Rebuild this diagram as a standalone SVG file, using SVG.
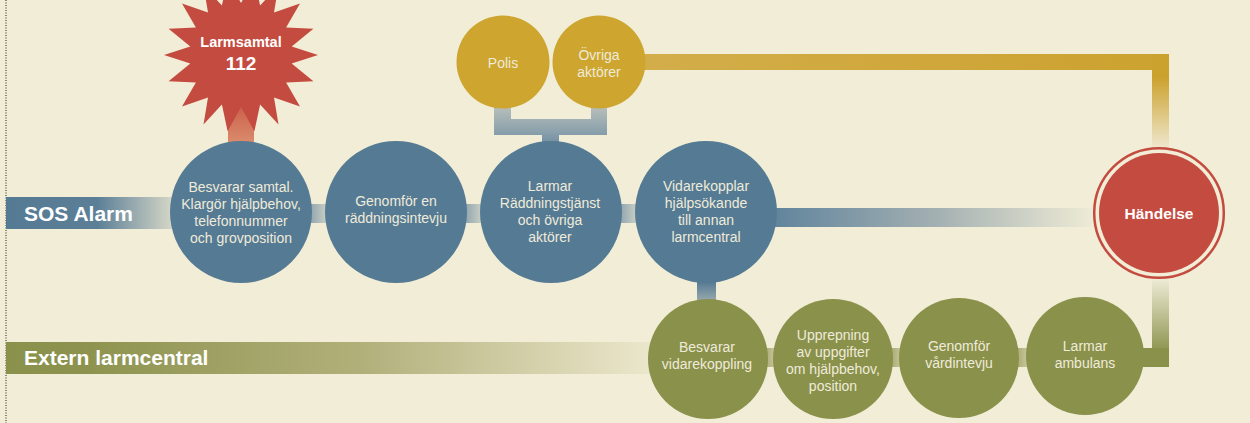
<svg xmlns="http://www.w3.org/2000/svg" width="1250" height="423" viewBox="0 0 1250 423">
  <defs>
    <style>
      .bg { fill: #f1edd6; }
      .blue { fill: #557a93; }
      .gold { fill: #cda52f; }
      .olive { fill: #8a914b; }
      .red { fill: #c44b3f; }
      .t { font-family: "Liberation Sans", Arial, sans-serif; font-size: 14px; fill: #efebda; text-anchor: middle; }
      .tb { font-family: "Liberation Sans", Arial, sans-serif; font-weight: bold; fill: #ffffff; text-anchor: middle; }
      .lane { font-family: "Liberation Sans", Arial, sans-serif; font-weight: bold; font-size: 21px; fill: #ffffff; }
    </style>
    <linearGradient id="gSos" x1="6" y1="0" x2="172" y2="0" gradientUnits="userSpaceOnUse">
      <stop offset="0" stop-color="#557a93"/>
      <stop offset="0.55" stop-color="#5c7f97"/>
      <stop offset="1" stop-color="#d4d6c7"/>
    </linearGradient>
    <linearGradient id="gExt" x1="6" y1="0" x2="652" y2="0" gradientUnits="userSpaceOnUse">
      <stop offset="0" stop-color="#8a914b"/>
      <stop offset="0.12" stop-color="#8d934e"/>
      <stop offset="0.55" stop-color="#b1b07a"/>
      <stop offset="1" stop-color="#ebe7cc"/>
    </linearGradient>
    <linearGradient id="gLong" x1="777" y1="0" x2="1095" y2="0" gradientUnits="userSpaceOnUse">
      <stop offset="0" stop-color="#62859c"/>
      <stop offset="0.5" stop-color="#a3b0b2"/>
      <stop offset="1" stop-color="#efecd6"/>
    </linearGradient>
    <linearGradient id="gShortBlue" x1="0" y1="0" x2="1" y2="0">
      <stop offset="0" stop-color="#7f98a8"/>
      <stop offset="1" stop-color="#dcdccc"/>
    </linearGradient>
    <linearGradient id="gShortOlive" x1="0" y1="0" x2="1" y2="0">
      <stop offset="0" stop-color="#9a9d5f"/>
      <stop offset="1" stop-color="#d6d3ae"/>
    </linearGradient>
    <linearGradient id="gGoldDown" x1="0" y1="54" x2="0" y2="150" gradientUnits="userSpaceOnUse">
      <stop offset="0" stop-color="#cca22f"/>
      <stop offset="0.25" stop-color="#cca22f"/>
      <stop offset="1" stop-color="#f0ead3"/>
    </linearGradient>
    <linearGradient id="gGoldH" x1="615" y1="0" x2="1169" y2="0" gradientUnits="userSpaceOnUse">
      <stop offset="0" stop-color="#d3ae4b"/>
      <stop offset="1" stop-color="#cca22f"/>
    </linearGradient>
    <linearGradient id="gOliveUp" x1="0" y1="279" x2="0" y2="367" gradientUnits="userSpaceOnUse">
      <stop offset="0" stop-color="#eeebd5"/>
      <stop offset="0.85" stop-color="#8a914b"/>
      <stop offset="1" stop-color="#8a914b"/>
    </linearGradient>
    <linearGradient id="gBracket" x1="0" y1="100" x2="0" y2="146" gradientUnits="userSpaceOnUse">
      <stop offset="0" stop-color="#c4c7bd"/>
      <stop offset="0.7" stop-color="#8aa0ac"/>
      <stop offset="1" stop-color="#6c8ca1"/>
    </linearGradient>
    <linearGradient id="gDrop" x1="0" y1="280" x2="0" y2="306" gradientUnits="userSpaceOnUse">
      <stop offset="0" stop-color="#4f7590"/>
      <stop offset="1" stop-color="#a9b6b5"/>
    </linearGradient>
    <linearGradient id="gRedBar" x1="0" y1="95" x2="0" y2="150" gradientUnits="userSpaceOnUse">
      <stop offset="0" stop-color="#c44b3f"/>
      <stop offset="0.35" stop-color="#cf6a52"/>
      <stop offset="1" stop-color="#dd9472"/>
    </linearGradient>
  </defs>

  <rect class="bg" x="0" y="0" width="1250" height="423"/>
  <line x1="6" y1="0" x2="6" y2="423" stroke="#222" stroke-width="1" stroke-dasharray="1,1.5"/>

  <!-- lanes -->
  <g id="lane-sos">
    <rect x="6" y="197" width="168" height="32" fill="url(#gSos)"/>
    <text class="lane" x="24" y="221">SOS Alarm</text>
  </g>
  <g id="lane-extern">
    <rect x="6" y="342" width="648" height="32" fill="url(#gExt)"/>
    <text class="lane" x="24" y="365">Extern larmcentral</text>
  </g>

  <!-- connectors -->
  <g id="connectors">
    <rect x="228" y="95" width="26" height="55" fill="url(#gRedBar)"/>
    <path d="M494,95 H511 V119 H591 V95 H607 V135 H559 V146 H542 V135 H494 Z" fill="url(#gBracket)"/>
    <rect x="615" y="54" width="554" height="16" fill="url(#gGoldH)"/>
    <rect x="1152" y="54" width="17" height="96" fill="url(#gGoldDown)"/>
    <rect x="305" y="204" width="27" height="19" fill="url(#gShortBlue)"/>
    <rect x="460" y="204" width="27" height="19" fill="url(#gShortBlue)"/>
    <rect x="615" y="204" width="27" height="19" fill="url(#gShortBlue)"/>
    <rect x="770" y="208" width="326" height="19" fill="url(#gLong)"/>
    <rect x="697" y="278" width="19" height="28" fill="url(#gDrop)"/>
    <rect x="760" y="348" width="20" height="19" fill="url(#gShortOlive)"/>
    <rect x="886" y="348" width="20" height="19" fill="url(#gShortOlive)"/>
    <rect x="1012" y="348" width="20" height="19" fill="url(#gShortOlive)"/>
    <rect x="1152" y="276" width="17" height="91" fill="url(#gOliveUp)"/>
    <rect x="1130" y="348" width="39" height="19" class="olive"/>
  </g>

  <!-- start -->
  <g id="n-larmsamtal">
    <polygon class="red" points="318.0,55.0 291.7,63.5 313.4,81.3 286.1,82.4 300.0,106.4 274.0,97.5 278.5,124.5 260.1,104.4 254.4,131.2 241.0,107.0 227.6,131.2 221.9,104.4 203.5,124.5 208.0,97.5 182.0,106.4 195.9,82.4 168.6,81.3 190.3,63.5 164.0,55.0 190.3,46.5 168.6,28.7 195.9,27.6 182.0,3.6 208.0,12.5 203.5,-14.5 221.9,5.6 227.6,-21.2 241.0,3.0 254.4,-21.2 260.1,5.6 278.5,-14.5 274.0,12.5 300.0,3.6 286.1,27.6 313.4,28.7 291.7,46.5"/>
    <text class="tb" x="241" y="47" font-size="14.5">Larmsamtal</text>
    <text class="tb" x="241" y="70" font-size="19">112</text>
  </g>

  <!-- SOS Alarm nodes -->
  <g id="n-besvarar-samtal">
    <circle class="blue" cx="241" cy="212" r="71"/>
    <text class="t" x="241" y="192">Besvarar samtal.</text>
    <text class="t" x="241" y="209">Klargör hjälpbehov,</text>
    <text class="t" x="241" y="226">telefonnummer</text>
    <text class="t" x="241" y="243">och grovposition</text>
  </g>
  <g id="n-raddningsintervju">
    <circle class="blue" cx="396" cy="212" r="71"/>
    <text class="t" x="396" y="206">Genomför en</text>
    <text class="t" x="396" y="223">räddningsintevju</text>
  </g>
  <g id="n-larmar-rtj">
    <circle class="blue" cx="551" cy="212" r="71"/>
    <text class="t" x="550" y="191">Larmar</text>
    <text class="t" x="550" y="208">Räddningstjänst</text>
    <text class="t" x="550" y="225">och övriga</text>
    <text class="t" x="550" y="242">aktörer</text>
  </g>
  <g id="n-vidarekopplar">
    <circle class="blue" cx="706" cy="212" r="71"/>
    <text class="t" x="706" y="191">Vidarekopplar</text>
    <text class="t" x="706" y="208">hjälpsökande</text>
    <text class="t" x="706" y="225">till annan</text>
    <text class="t" x="706" y="242">larmcentral</text>
  </g>

  <!-- actors -->
  <g id="n-polis">
    <circle class="gold" cx="503" cy="62" r="46.5"/>
    <text class="t" x="503" y="68" font-size="14.5">Polis</text>
  </g>
  <g id="n-ovriga">
    <circle class="gold" cx="599" cy="62" r="46.5"/>
    <text class="t" x="599" y="60" font-size="14.5">Övriga</text>
    <text class="t" x="599" y="77" font-size="14.5">aktörer</text>
  </g>

  <!-- event -->
  <g id="n-handelse">
    <circle cx="1159" cy="213" r="64.8" fill="#f1edd6" stroke="#c44b3f" stroke-width="2.5"/>
    <circle class="red" cx="1159" cy="213" r="60"/>
    <text class="tb" x="1159" y="219" font-size="15.5">Händelse</text>
  </g>

  <!-- Extern larmcentral nodes -->
  <g id="n-besvarar-vidarekoppling">
    <circle class="olive" cx="708" cy="359" r="60"/>
    <text class="t" x="707" y="352">Besvarar</text>
    <text class="t" x="707" y="369">vidarekoppling</text>
  </g>
  <g id="n-upprepning">
    <circle class="olive" cx="833" cy="359" r="60"/>
    <text class="t" x="833" y="340">Upprepning</text>
    <text class="t" x="833" y="357">av uppgifter</text>
    <text class="t" x="833" y="374">om hjälpbehov,</text>
    <text class="t" x="833" y="391">position</text>
  </g>
  <g id="n-vardintervju">
    <circle class="olive" cx="959" cy="358" r="60"/>
    <text class="t" x="959" y="351">Genomför</text>
    <text class="t" x="959" y="368">vårdintevju</text>
  </g>
  <g id="n-larmar-ambulans">
    <circle class="olive" cx="1085" cy="356" r="59"/>
    <text class="t" x="1085" y="351">Larmar</text>
    <text class="t" x="1085" y="368">ambulans</text>
  </g>
</svg>
